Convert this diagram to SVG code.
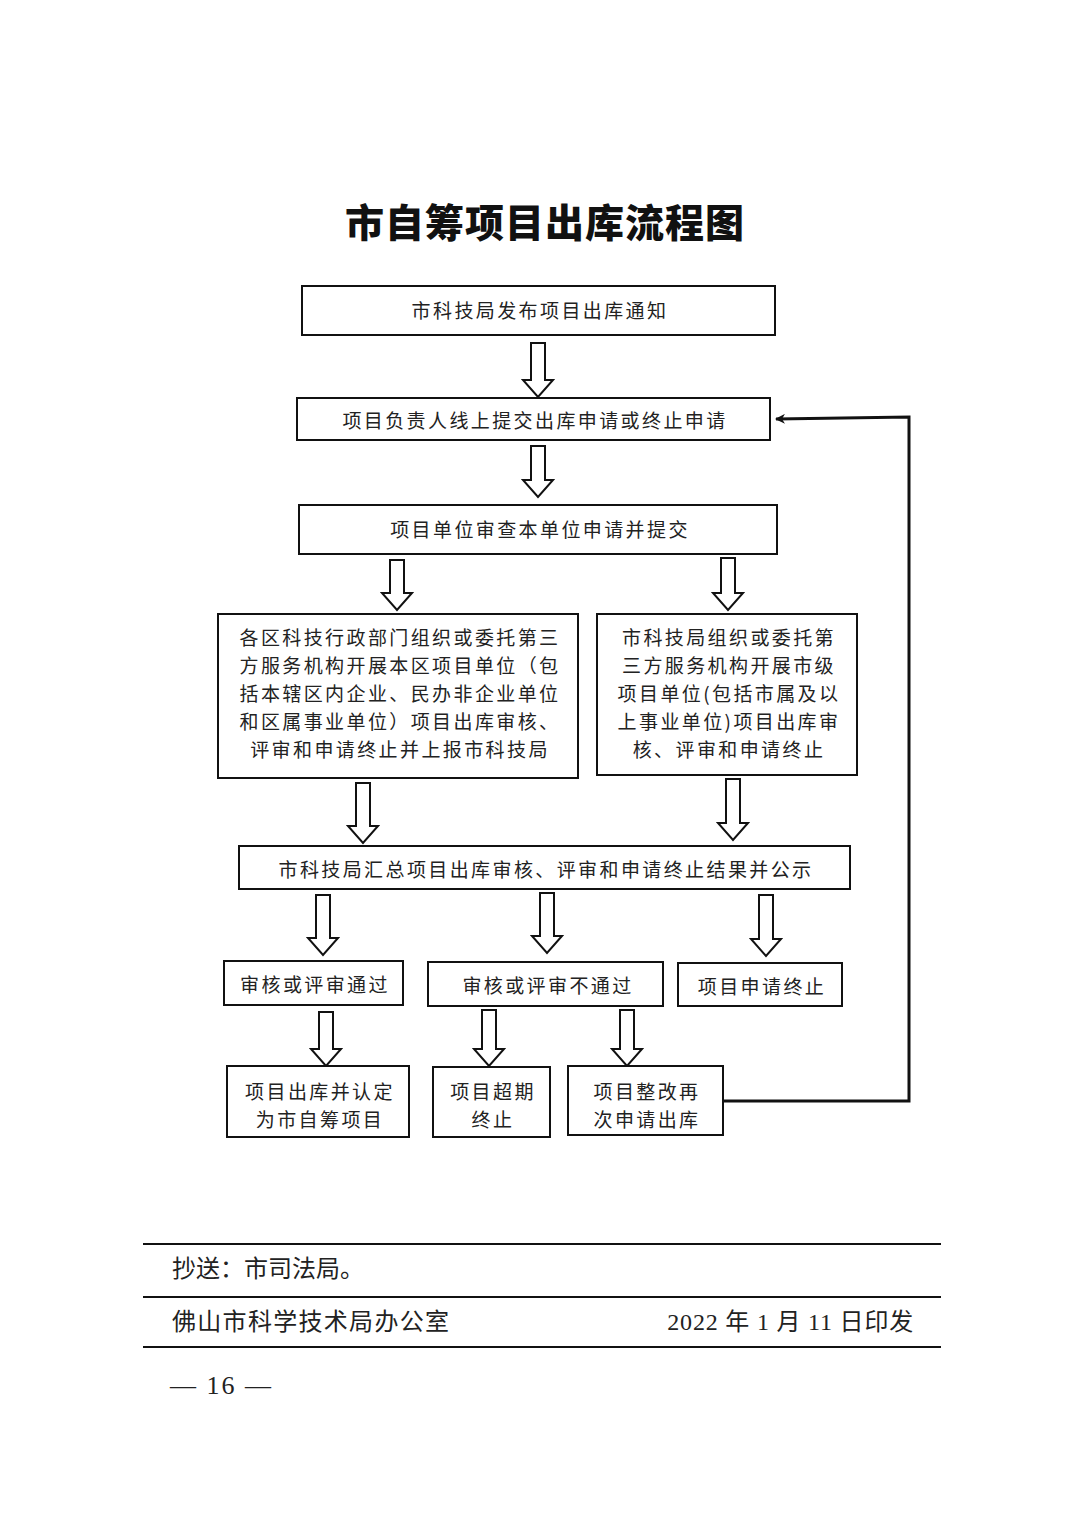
<svg xmlns="http://www.w3.org/2000/svg" width="1080" height="1527" viewBox="0 0 1080 1527">
<style>
.box{fill:#fff;stroke:#111;stroke-width:2}
.t{font-family:"Noto Sans CJK SC","Noto Sans CJK JP",sans-serif;font-size:19px;fill:#222;text-anchor:middle;dominant-baseline:central;letter-spacing:2.4px}
.ha{fill:#fff;stroke:#111;stroke-width:2;stroke-linejoin:miter}
.fb{fill:none;stroke:#111;stroke-width:3}
.title{font-family:"Noto Sans CJK SC",sans-serif;font-size:39px;font-weight:900;fill:#111;text-anchor:middle;dominant-baseline:central;letter-spacing:1px}
.ft{font-family:"Liberation Serif","Noto Sans CJK SC",serif;font-size:24px;fill:#222;dominant-baseline:central}
.rule{stroke:#111;stroke-width:2}
</style>
<defs>
<marker id="ah" markerWidth="10" markerHeight="10" refX="9" refY="5" orient="auto" markerUnits="userSpaceOnUse">
<path d="M0,0 L10,5 L0,10 L3,5 Z" fill="#111"/>
</marker>
</defs>
<rect width="1080" height="1527" fill="#fff"/>
<text class="title" x="545" y="220">市自筹项目出库流程图</text>

<g id="connectors">
<polygon class="ha" points="531,343 545,343 545,380 553,380 538,397 523,380 531,380"/>
<polygon class="ha" points="531,446 545,446 545,480 553,480 538,497 523,480 531,480"/>
<polygon class="ha" points="390,560 404,560 404,593 412,593 397,610 382,593 390,593"/>
<polygon class="ha" points="721,558 735,558 735,593 743,593 728,610 713,593 721,593"/>
<polygon class="ha" points="356,783 370,783 370,826 378,826 363,843 348,826 356,826"/>
<polygon class="ha" points="726,779 740,779 740,823 748,823 733,840 718,823 726,823"/>
<polygon class="ha" points="316,895 330,895 330,938 338,938 323,955 308,938 316,938"/>
<polygon class="ha" points="540,893 554,893 554,936 562,936 547,953 532,936 540,936"/>
<polygon class="ha" points="759,895 773,895 773,939 781,939 766,956 751,939 759,939"/>
<polygon class="ha" points="319,1012 333,1012 333,1049 341,1049 326,1066 311,1049 319,1049"/>
<polygon class="ha" points="482,1010 496,1010 496,1049 504,1049 489,1066 474,1049 482,1049"/>
<polygon class="ha" points="620,1010 634,1010 634,1049 642,1049 627,1066 612,1049 620,1049"/>
<polyline class="fb" points="724,1101 909,1101 909,417 776,419" marker-end="url(#ah)"/>
</g>

<g id="n1"><rect class="box" x="302" y="286" width="473" height="49"/><text class="t" x="540" y="309">市科技局发布项目出库通知</text></g>
<g id="n2"><rect class="box" x="297" y="398" width="473" height="42"/><text class="t" x="535" y="419">项目负责人线上提交出库申请或终止申请</text></g>
<g id="n3"><rect class="box" x="299" y="505" width="478" height="49"/><text class="t" x="540" y="528">项目单位审查本单位申请并提交</text></g>
<g id="n4"><rect class="box" x="218" y="614" width="360" height="164"/>
<text class="t" x="400" y="636">各区科技行政部门组织或委托第三</text>
<text class="t" x="400" y="664">方服务机构开展本区项目单位（包</text>
<text class="t" x="400" y="692">括本辖区内企业、民办非企业单位</text>
<text class="t" x="400" y="720">和区属事业单位）项目出库审核、</text>
<text class="t" x="400" y="748">评审和申请终止并上报市科技局</text>
</g>
<g id="n5"><rect class="box" x="597" y="614" width="260" height="161"/>
<text class="t" x="729" y="636">市科技局组织或委托第</text>
<text class="t" x="729" y="664">三方服务机构开展市级</text>
<text class="t" x="729" y="692">项目单位(包括市属及以</text>
<text class="t" x="729" y="720">上事业单位)项目出库审</text>
<text class="t" x="729" y="748">核、评审和申请终止</text>
</g>
<g id="n6"><rect class="box" x="239" y="846" width="611" height="43"/><text class="t" x="546" y="868">市科技局汇总项目出库审核、评审和申请终止结果并公示</text></g>
<g id="n7"><rect class="box" x="224" y="961" width="179" height="44"/><text class="t" x="315" y="983">审核或评审通过</text></g>
<g id="n8"><rect class="box" x="428" y="962" width="235" height="44"/><text class="t" x="548" y="984">审核或评审不通过</text></g>
<g id="n9"><rect class="box" x="678" y="963" width="164" height="43"/><text class="t" x="762" y="985">项目申请终止</text></g>
<g id="n10"><rect class="box" x="227" y="1066" width="182" height="71"/>
<text class="t" x="320" y="1090">项目出库并认定</text><text class="t" x="320" y="1118">为市自筹项目</text></g>
<g id="n11"><rect class="box" x="433" y="1067" width="117" height="70"/>
<text class="t" x="493" y="1090">项目超期</text><text class="t" x="493" y="1118">终止</text></g>
<g id="n12"><rect class="box" x="568" y="1066" width="155" height="69"/>
<text class="t" x="647" y="1090">项目整改再</text><text class="t" x="647" y="1118">次申请出库</text></g>

<g id="footer">
<line class="rule" x1="143" y1="1244" x2="941" y2="1244"/>
<line class="rule" x1="143" y1="1297" x2="941" y2="1297"/>
<line class="rule" x1="143" y1="1347" x2="941" y2="1347"/>
<text class="ft" x="172" y="1269">抄送：市司法局。</text>
<text class="ft" x="172" y="1322" style="letter-spacing:1.3px">佛山市科学技术局办公室</text>
<text class="ft" x="914" y="1322" text-anchor="end" style="letter-spacing:0.8px">2022 年 1 月 11 日印发</text>
<text class="ft" x="170" y="1385" style="font-size:26px;letter-spacing:2px">— 16 —</text>
</g>
</svg>
